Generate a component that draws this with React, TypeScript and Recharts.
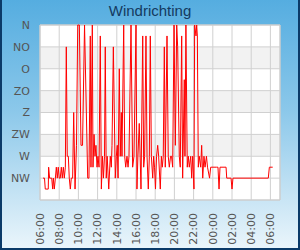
import React from 'react';
import { LineChart, Line, XAxis, YAxis, CartesianGrid, ReferenceArea } from 'recharts';

// hours after 06:00 (day 1)
const hours: number[] = [
  0.31, 0.47, 0.55, 0.86, 0.9, 1.0, 1.22, 1.32, 1.39, 1.49, 1.6, 1.7, 1.8, 1.9, 2.0, 2.11, 2.22, 2.32, 2.43, 2.53,
  2.64, 2.74, 2.84, 2.95, 3.05, 3.16, 3.26, 3.4, 3.51, 3.65, 3.8, 3.93, 4.1, 4.27, 4.43, 4.64, 4.97, 5.1, 5.24, 5.31,
  5.45, 5.52, 5.63, 5.73, 5.83, 5.94, 6.04, 6.15, 6.28, 6.39, 6.51, 6.61, 6.72, 6.8, 6.9, 7.0, 7.16, 7.32, 7.43, 7.5,
  7.64, 7.84, 7.95, 8.05, 8.13, 8.26, 8.36, 8.47, 8.54, 8.72, 8.82, 8.93, 9.06, 9.17, 9.27, 9.48, 9.65, 9.79, 10.0, 10.1,
  10.2, 10.34, 10.52, 10.7, 10.8, 10.9, 11.04, 11.15, 11.28, 11.39, 11.49, 11.6, 11.74, 11.84, 11.93, 12.03, 12.14, 12.26, 12.36, 12.53,
  12.64, 12.74, 12.84, 12.95, 13.05, 13.23, 13.36, 13.47, 13.6, 13.7, 13.82, 13.96, 14.1, 14.24, 14.34, 14.51, 14.61, 14.76, 14.86, 15.03,
  15.1, 15.2, 15.34, 15.45, 15.55, 15.7, 15.8, 15.9, 16.04, 16.11, 16.25, 16.32, 16.39, 16.49, 16.59, 16.74, 16.84, 16.95, 17.08, 17.19,
  17.34, 17.45, 17.66, 17.78, 18.4, 18.54, 18.65, 18.75, 19.38, 19.45, 19.9, 20.0, 20.1, 23.78, 23.89, 24.24,
];

// wind direction in degrees
const directions: number[] = [
  45, 45, 22.5, 22.5, 67.5, 45, 45, 22.5, 45, 22.5, 45, 67.5, 45, 67.5, 45, 45, 67.5, 45, 67.5, 45,
  67.5, 315, 90, 90, 45, 22.5, 45, 45, 180, 22.5, 112.5, 360, 360, 112.5, 112.5, 360, 45, 45, 337.5, 67.5,
  360, 67.5, 135, 90, 112.5, 67.5, 90, 67.5, 337.5, 22.5, 90, 45, 90, 315, 45, 90, 22.5, 90, 67.5, 112.5,
  315, 45, 90, 112.5, 45, 270, 90, 180, 90, 360, 90, 67.5, 90, 67.5, 90, 360, 67.5, 90, 360, 22.5,
  90, 157.5, 22.5, 337.5, 67.5, 90, 337.5, 90, 22.5, 90, 337.5, 90, 45, 90, 67.5, 22.5, 90, 112.5, 90, 22.5,
  90, 67.5, 90, 315, 67.5, 337.5, 90, 67.5, 90, 90, 67.5, 360, 112.5, 360, 315, 90, 67.5, 337.5, 45, 247.5,
  90, 360, 67.5, 90, 67.5, 90, 45, 90, 22.5, 360, 337.5, 360, 337.5, 67.5, 90, 67.5, 112.5, 45, 90, 67.5,
  90, 67.5, 45, 67.5, 67.5, 67.5, 22.5, 67.5, 67.5, 45, 45, 22.5, 45, 45, 67.5, 67.5,
];

const dirTicks: number[] = [45, 90, 135, 180, 225, 270, 315, 360];
const dirLabels: string[] = ['NW', 'W', 'ZW', 'Z', 'ZO', 'O', 'NO', 'N'];
const timeTicks: number[] = [0, 2, 4, 6, 8, 10, 12, 14, 16, 18, 20, 22, 24];
const startHour = 6;

const data = hours.map((h, i) => ({ h, dir: directions[i] }));

const fmtTime = (h: number) => {
  const hh = (startHour + h) % 24;
  return `${String(hh).padStart(2, '0')}:00`;
};
const fmtDir = (v: number) => dirLabels[dirTicks.indexOf(v)] ?? '';

const FONT = '"DejaVu Sans", sans-serif';

const TimeTick = (props: any) => {
  const { x, y, payload } = props;
  return (
    <text
      x={x}
      y={y + 5}
      transform={`rotate(-90, ${x}, ${y + 5})`}
      textAnchor="end"
      dy="0.35em"
      fill="#555"
      fontSize={11}
      fontFamily={FONT}
    >
      {fmtTime(payload.value)}
    </text>
  );
};

export default function App() {
  return (
    <div
      style={{
        position: 'absolute',
        left: 0,
        top: 0,
        width: 300,
        height: 250,
        boxSizing: 'border-box',
        borderLeft: '2px solid #0b3a68',
        borderRight: '2px solid #0b3a68',
        borderBottom: '2px solid #0b3a68',
        background: 'linear-gradient(to bottom, #55ade0 0%, #8cc8ea 45%, #eaf5fb 100%)',
        overflow: 'hidden',
      }}
    >
      <div
        style={{
          position: 'absolute',
          left: 0,
          top: 2,
          width: 296,
          textAlign: 'center',
          fontFamily: '"Liberation Sans", Arial, sans-serif',
          fontSize: 15,
          color: '#143a60',
          lineHeight: '18px',
        }}
      >
        Windrichting
      </div>
      <div style={{ position: 'absolute', left: -2, top: 0 }}>
        <LineChart width={300} height={250} data={data} margin={{ top: 25, right: 20, bottom: 5, left: 10 }}>
          <CartesianGrid
            stroke="#d0d0d0"
            strokeWidth={1}
            horizontalFill={['#ffffff', '#f2f2f2', '#ffffff', '#f2f2f2', '#ffffff', '#f2f2f2', '#ffffff', '#ffffff']}
            fillOpacity={1}
          />
          <ReferenceArea x1={0} x2={25} y1={0} y2={360} fill="none" stroke="#cccccc" strokeWidth={1} ifOverflow="visible" />
          <XAxis
            dataKey="h"
            type="number"
            domain={[0, 25]}
            ticks={timeTicks}
            interval={0}
            axisLine={false}
            tickLine={false}
            height={45}
            tick={<TimeTick />}
          />
          <YAxis
            type="number"
            domain={[0, 360]}
            ticks={dirTicks}
            interval={0}
            tickFormatter={fmtDir}
            axisLine={false}
            tickLine={false}
            width={30}
            tickMargin={4}
            tick={{ fill: '#555', fontSize: 11, fontFamily: FONT }}
          />
          <Line
            type="linear"
            dataKey="dir"
            stroke="#ff0000"
            strokeWidth={1}
            dot={false}
            isAnimationActive={false}
          />
        </LineChart>
      </div>
    </div>
  );
}
